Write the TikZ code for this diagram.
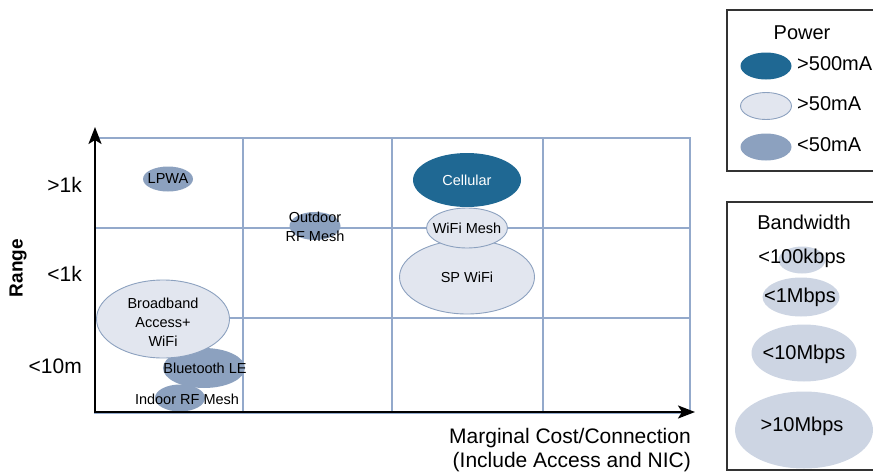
\documentclass[tikz,border=0pt]{standalone}
\usepackage{fontspec}
\setmainfont{Liberation Sans}
\usetikzlibrary{shapes.geometric,arrows.meta}
\definecolor{cellblue}{HTML}{1F6893}
\definecolor{midblue}{HTML}{8CA1BF}
\definecolor{lightfill}{HTML}{E2E6EF}
\definecolor{bwfill}{HTML}{CDD5E3}
\definecolor{gridc}{HTML}{93A9CB}
\definecolor{boxc}{HTML}{333333}
\begin{document}
\begin{tikzpicture}[x=1pt,y=-1pt,
 blob/.style={ellipse, inner sep=0pt, outer sep=0pt},
 hi/.style={blob, fill=cellblue},
 mid/.style={blob, fill=midblue},
 low/.style={blob, fill=lightfill, draw=midblue, line width=0.9pt},
 bw/.style={blob, fill=bwfill},
 lab/.style={font=\fontsize{14.5}{19}\selectfont, align=center, inner sep=0pt},
 axlab/.style={font=\fontsize{21}{24}\selectfont, inner sep=0pt},
 leg/.style={font=\fontsize{20}{24}\selectfont, inner sep=0pt},
 gridline/.style={draw=gridc, line width=1.1pt},
 legbox/.style={draw=boxc, line width=1.1pt},
 axis/.style={line width=2.4pt, {Stealth[length=17pt,width=13pt,inset=4pt]}-{Stealth[length=17pt,width=13pt,inset=4pt]}}
]
\useasboundingbox (0,0) rectangle (873,474);

% grid
\draw[gridline] (95,138) rectangle (690,413);
\draw[gridline] (243,138) -- (243,413);
\draw[gridline] (392,138) -- (392,413);
\draw[gridline] (543,138) -- (543,413);
\draw[gridline] (95,228) -- (690,228);
\draw[gridline] (95,318) -- (690,318);

% ellipses
\node[mid, minimum width=50pt, minimum height=25pt] (lpwa) at (168,179) {};
\node[mid, minimum width=51pt, minimum height=28pt] (outdoor) at (315,226) {};
\node[mid, minimum width=50pt, minimum height=27pt] (indoor) at (180,398) {};
\node[mid, minimum width=82pt, minimum height=40pt] (ble) at (204,368) {};
\node[low, minimum width=133pt, minimum height=78pt] (bb) at (163,319) {};
\node[low, minimum width=135pt, minimum height=74pt] (spwifi) at (467,277) {};
\node[low, minimum width=81pt, minimum height=40pt] (wmesh) at (467,228) {};
\node[hi, minimum width=108pt, minimum height=54pt] (cell) at (467,180) {};

% ellipse labels
\node[lab] (lpwat) at (168,179) {LPWA};
\node[lab] (outdoort) at (315,227) {Outdoor\\RF Mesh};
\node[lab] (bbt) at (163,322) {Broadband\\Access+\\WiFi};
\node[lab] (blet) at (205,368) {Bluetooth LE};
\node[lab] (indoort) at (187,399) {Indoor RF Mesh};
\node[lab, text=white] (cellt) at (467,180) {Cellular};
\node[lab] (wmesht) at (467,228) {WiFi Mesh};
\node[lab] (spwifit) at (467,277) {SP WiFi};

% axes
\coordinate (ytip) at (95,127);
\coordinate (orig) at (95,412);
\coordinate (xtip) at (695,412);
\draw[axis] (ytip) -- (orig) -- (xtip);

% axis labels
\node[axlab, anchor=east] (r1) at (82,185) {>1k};
\node[axlab, anchor=east] (r2) at (82,274) {<1k};
\node[axlab, anchor=east] (r3) at (82,366) {<10m};
\node[font=\bfseries\fontsize{19}{22}\selectfont, inner sep=0pt, rotate=90] (range) at (18,268) {Range};
\node[axlab, align=right, anchor=east] (xl) at (691,450) {Marginal Cost/Connection\\(Include Access and NIC)};

% power legend
\draw[legbox] (874,10) -- (727,10) -- (727,171) -- (874,171);
\node[leg] (pt) at (802,33) {Power};
\node[hi, minimum width=51pt, minimum height=27pt] (p1) at (766,66) {};
\node[low, minimum width=51pt, minimum height=27pt] (p2) at (766,106) {};
\node[mid, minimum width=51pt, minimum height=27pt] (p3) at (766,147) {};
\node[leg, anchor=west] (p1t) at (797,64) {>500mA};
\node[leg, anchor=west] (p2t) at (797,104) {>50mA};
\node[leg, anchor=west] (p3t) at (797,145) {<50mA};

% bandwidth legend
\draw[legbox] (874,202) -- (727,202) -- (727,470) -- (874,470);
\node[leg] (bwt) at (804,222) {Bandwidth};
\node[bw, minimum width=47pt, minimum height=27pt] (b1) at (802,260) {};
\node[bw, minimum width=77pt, minimum height=39pt] (b2) at (801,297) {};
\node[bw, minimum width=105pt, minimum height=57pt] (b3) at (804,353) {};
\node[bw, minimum width=138pt, minimum height=77pt] (b4) at (804,430) {};
\node[leg] (b1t) at (802,258) {<100kbps};
\node[leg] (b2t) at (800,297) {<1Mbps};
\node[leg] (b3t) at (804,354) {<10Mbps};
\node[leg] (b4t) at (802,426) {>10Mbps};
\end{tikzpicture}
\end{document}
